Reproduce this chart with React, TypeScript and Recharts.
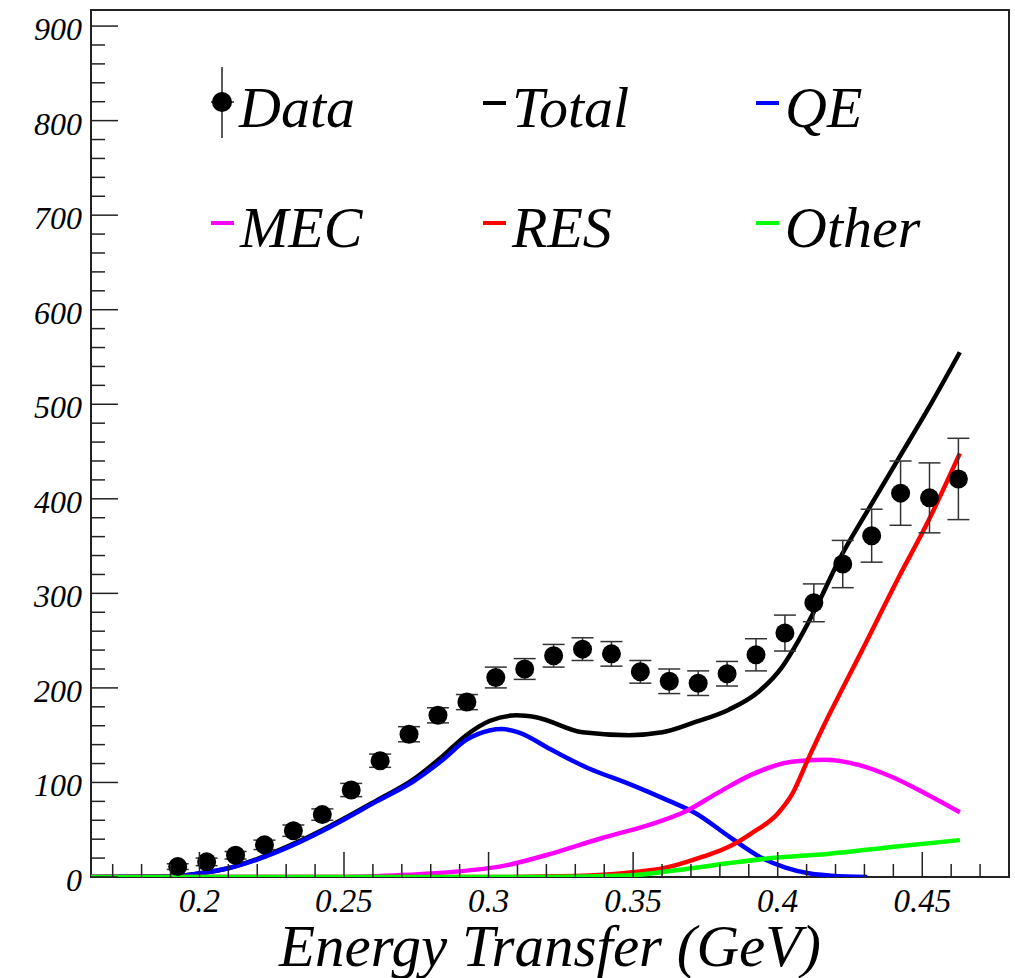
import { ComposedChart, Line, Scatter, ErrorBar, XAxis, YAxis, ReferenceArea } from 'recharts';

// axis range and ticks
const xMin = 0.1625;
const xMax = 0.48;
const yMax = 917;

const xMajorTicks = [0.2, 0.25, 0.3, 0.35, 0.4, 0.45];
const xAllTicks = [
  0.17, 0.18, 0.19, 0.2, 0.21, 0.22, 0.23, 0.24, 0.25, 0.26, 0.27, 0.28, 0.29, 0.3, 0.31, 0.32,
  0.33, 0.34, 0.35, 0.36, 0.37, 0.38, 0.39, 0.4, 0.41, 0.42, 0.43, 0.44, 0.45, 0.46, 0.47,
];
const yMajorTicks = [0, 100, 200, 300, 400, 500, 600, 700, 800, 900];
const yAllTicks = Array.from({ length: 46 }, (_, i) => i * 20);

// measured data points
const dataX = [
  0.1925, 0.2025, 0.2125, 0.2225, 0.2325, 0.2425, 0.2525, 0.2625, 0.2725, 0.2825, 0.2925, 0.3025,
  0.3125, 0.3225, 0.3325, 0.3425, 0.3525, 0.3625, 0.3725, 0.3825, 0.3925, 0.4025, 0.4125, 0.4225,
  0.4325, 0.4425, 0.4525, 0.4625,
];
const dataY = [
  11, 16, 23, 34, 49, 66, 92, 123, 151, 171, 185, 211, 220, 234, 241, 236, 217, 207, 205, 215, 235,
  258, 290, 331, 361, 406, 401, 421,
];
const dataErr = [
  3, 4, 4, 5, 6, 6, 7, 7, 8, 8, 8, 11, 11, 12, 12, 13, 12, 13, 13, 13, 17, 19, 20, 25, 28, 34, 37,
  43,
];

// model curves
const totalX = [
  0.1625, 0.19, 0.2003, 0.2096, 0.2199, 0.2325, 0.2452, 0.2613, 0.2739, 0.2842, 0.2923, 0.3003,
  0.3096, 0.3164, 0.3325, 0.3486, 0.3601, 0.3716, 0.3831, 0.3934, 0.4015, 0.4072, 0.4141, 0.421,
  0.4314, 0.4417, 0.452, 0.463,
];
const totalY = [
  0, 0.5, 4, 9, 19, 35, 54, 81, 103, 128, 150, 165, 171, 169, 153, 150, 153, 164, 177, 196, 222, 250,
  290, 334, 389, 442, 495, 555,
];

const qeX = [
  0.1625, 0.19, 0.2003, 0.2096, 0.2199, 0.2325, 0.2452, 0.2613, 0.2739, 0.2842, 0.2923, 0.3003,
  0.3046, 0.3103, 0.3218, 0.3345, 0.3486, 0.3624, 0.3716, 0.3831, 0.3934, 0.4027, 0.4107, 0.4186,
  0.431,
];
const qeY = [
  0, 0.5, 4, 9, 18.5, 34, 53, 80, 101, 124, 145, 155, 156.5, 153, 134.5, 115, 98.5, 80.5, 67.5, 43,
  22, 10, 4, 1.4, 0,
];

const mecX = [
  0.1625, 0.25, 0.27, 0.2931, 0.3038, 0.3221, 0.339, 0.3564, 0.3679, 0.3793, 0.3908, 0.4049, 0.4164,
  0.4279, 0.4394, 0.4509, 0.463,
];
const mecY = [0, 0, 2, 7, 11, 25, 41, 56, 69, 89, 108, 122, 124, 118.6, 106, 88.6, 68.5];

const resX = [
  0.1625, 0.3, 0.33, 0.3498, 0.3601, 0.3741, 0.3831, 0.3908, 0.4003, 0.4049, 0.4107, 0.4164, 0.4222,
  0.4279, 0.4417, 0.452, 0.463,
];
const resY = [0, 0, 1, 5, 9, 21.5, 32, 46, 68, 87, 126, 163, 198, 232, 316, 376, 448];

const otherX = [0.1625, 0.32, 0.3483, 0.3655, 0.3828, 0.3978, 0.4172, 0.4403, 0.463];
const otherY = [0, 0, 1.5, 7.4, 14.5, 20, 24.4, 32, 39];

const toPoints = (xs: number[], ys: number[]) => xs.map((x, i) => ({ x, y: ys[i] }));

const dataPoints = dataX.map((x, i) => ({ x, y: dataY[i], err: dataErr[i] }));

const FONT = '"Liberation Serif", "Times New Roman", serif';

const XTick = (props: any) => {
  const { x, y, payload } = props;
  const v = payload.value as number;
  const major = xMajorTicks.some((t) => Math.abs(t - v) < 1e-6);
  return (
    <g>
      <line x1={x} x2={x} y1={y} y2={y - (major ? 25 : 13)} stroke="#222" strokeWidth={1.5} />
      {major && (
        <text x={x} y={y + 35} textAnchor="middle" fontFamily={FONT} fontStyle="italic" fontSize={33} fill="#000">
          {String(v)}
        </text>
      )}
    </g>
  );
};

const YTick = (props: any) => {
  const { x, y, payload } = props;
  const v = payload.value as number;
  const major = yMajorTicks.includes(v);
  return (
    <g>
      <line x1={x} x2={x + (major ? 27 : 14)} y1={y} y2={y} stroke="#222" strokeWidth={1.5} />
      {major && (
        <text x={x - 9} y={y + 14} textAnchor="end" fontFamily={FONT} fontStyle="italic" fontSize={32} fill="#000">
          {String(v)}
        </text>
      )}
    </g>
  );
};

const Dot = (props: any) => <circle cx={props.cx} cy={props.cy} r={9.5} fill="#000" />;

const legendItems = [
  { name: 'Total', color: '#000', x: 512, y: 127 },
  { name: 'QE', color: '#0000ff', x: 785, y: 127 },
  { name: 'MEC', color: '#ff00ff', x: 240, y: 247 },
  { name: 'RES', color: '#ff0000', x: 512, y: 247 },
  { name: 'Other', color: '#00ff00', x: 785, y: 247 },
];

const LW = 4.5;

export default function App() {
  return (
    <div style={{ position: 'absolute', left: 0, top: 0, width: 1015, height: 978, background: '#fff' }}>
      <ComposedChart width={1015} height={978} margin={{ top: 10, right: 6, left: 0, bottom: 0 }}>
        <XAxis
          type="number"
          dataKey="x"
          domain={[xMin, xMax]}
          ticks={xAllTicks}
          interval={0}
          allowDataOverflow
          height={101}
          axisLine={false}
          tickLine={false}
          tickSize={0}
          tickMargin={0}
          tick={<XTick />}
        />
        <YAxis
          type="number"
          domain={[0, yMax]}
          ticks={yAllTicks}
          interval={0}
          allowDataOverflow
          width={91}
          axisLine={false}
          tickLine={false}
          tickSize={0}
          tickMargin={0}
          tick={<YTick />}
        />
        <ReferenceArea x1={xMin} x2={xMax} y1={0} y2={yMax} fill="none" stroke="#222" strokeWidth={2} />
        <Line data={toPoints(totalX, totalY)} dataKey="y" type="monotone" stroke="#000" strokeWidth={LW} dot={false} isAnimationActive={false} />
        <Line data={toPoints(qeX, qeY)} dataKey="y" type="monotone" stroke="#0000ff" strokeWidth={LW} dot={false} isAnimationActive={false} />
        <Line data={toPoints(mecX, mecY)} dataKey="y" type="monotone" stroke="#ff00ff" strokeWidth={LW} dot={false} isAnimationActive={false} />
        <Line data={toPoints(resX, resY)} dataKey="y" type="monotone" stroke="#ff0000" strokeWidth={LW} dot={false} isAnimationActive={false} />
        <Line data={toPoints(otherX, otherY)} dataKey="y" type="monotone" stroke="#00ff00" strokeWidth={LW} dot={false} isAnimationActive={false} />
        <Scatter data={dataPoints} dataKey="y" shape={<Dot />} isAnimationActive={false}>
          <ErrorBar dataKey="err" direction="y" width={11} stroke="#333" strokeWidth={1.5} />
        </Scatter>
      </ComposedChart>
      <svg width={1015} height={978} style={{ position: 'absolute', left: 0, top: 0, pointerEvents: 'none' }}>
        <line x1={222} x2={222} y1={67} y2={138} stroke="#222" strokeWidth={1.5} />
        <line x1={211} x2={234} y1={102} y2={102} stroke="#222" strokeWidth={1.5} />
        <circle cx={222} cy={102} r={10} fill="#000" />
        <text x={239} y={127} fontFamily={FONT} fontStyle="italic" fontSize={58} fill="#000">
          Data
        </text>
        {legendItems.map((it) => (
          <g key={it.name}>
            <line x1={it.x - 29} x2={it.x - 6} y1={it.y - 24} y2={it.y - 24} stroke={it.color} strokeWidth={4} />
            <text x={it.x} y={it.y} fontFamily={FONT} fontStyle="italic" fontSize={58} fill="#000">
              {it.name}
            </text>
          </g>
        ))}
        <text x={550} y={966} textAnchor="middle" fontFamily={FONT} fontStyle="italic" fontSize={59} fill="#000">
          Energy Transfer (GeV)
        </text>
      </svg>
    </div>
  );
}
